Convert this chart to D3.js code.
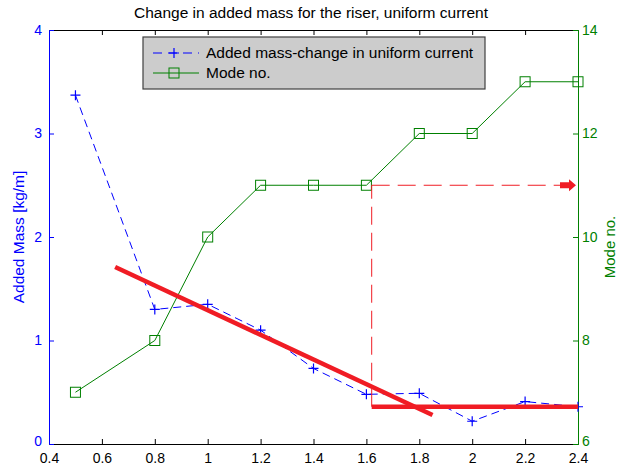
<!DOCTYPE html>
<html>
<head>
<meta charset="utf-8">
<script src="https://cdn.jsdelivr.net/npm/d3@7"></script>
<style>
  html, body { margin: 0; padding: 0; background: #fff; }
  svg { display: block; font-family: "Liberation Sans", Arial, sans-serif; }
</style>
</head>
<body>
<svg id="chart" width="617" height="471"></svg>
<script>
// Flow speed (x) and the two measured series
const speeds = [0.5, 0.8, 1.0, 1.2, 1.4, 1.6, 1.8, 2.0, 2.2, 2.4];
const addedMass = [3.37, 1.30, 1.35, 1.10, 0.73, 0.48, 0.49, 0.22, 0.41, 0.36];
const modeNo = [7, 8, 10, 11, 11, 11, 12, 12, 13, 13];

// Tick values
const xTicks = [0.4, 0.6, 0.8, 1.0, 1.2, 1.4, 1.6, 1.8, 2.0, 2.2, 2.4];
const leftTicks = [0, 1, 2, 3, 4];
const rightTicks = [6, 8, 10, 12, 14];

// Hand-drawn trend annotations (left-axis units)
const trendX = [0.65, 1.85];
const trendY = [1.71, 0.28];
const plateauX = [1.62, 2.4];
const plateauY = [0.36, 0.36];
const guideX = 1.62;
const guideMode = 11;

const title = "Change in added mass for the riser, uniform current";
const seriesNames = ["Added mass-change in uniform current", "Mode no."];

const BLUE = "#0000ff", GREEN = "#008000", RED = "#f01c24";
const FONT = "Liberation Sans, Arial, sans-serif";
const FS = 14;

const svg = d3.select("#chart");
const L = 49, R = 578, T = 30, B = 444;

const x = d3.scaleLinear().domain([0.4, 2.4]).range([L, R]);
const yL = d3.scaleLinear().domain([0, 4]).range([B, T]);
const yR = d3.scaleLinear().domain([6, 14]).range([B, T]);

// Title
svg.append("text").attr("x", 311).attr("y", 18).attr("text-anchor", "middle")
  .attr("font-size", 15.5).attr("fill", "#000").text(title);

// Axes
const tick = 5;
const gBottom = svg.append("g").attr("transform", `translate(0,${B})`)
  .call(d3.axisBottom(x).tickValues(xTicks).tickSize(-tick).tickPadding(9).tickFormat(d3.format("~g")));
const gTop = svg.append("g").attr("transform", `translate(0,${T})`)
  .call(d3.axisTop(x).tickValues(xTicks).tickSize(-tick).tickFormat(""));
const gLeft = svg.append("g").attr("transform", `translate(${L},0)`)
  .call(d3.axisLeft(yL).tickValues(leftTicks).tickSize(-tick).tickPadding(7).tickFormat(d3.format("d")));
const gRight = svg.append("g").attr("transform", `translate(${R},0)`)
  .call(d3.axisRight(yR).tickValues(rightTicks).tickSize(-tick).tickPadding(4).tickFormat(d3.format("d")));

[gBottom, gTop].forEach(g => {
  g.selectAll("path.domain").attr("stroke", "#000").attr("stroke-width", 1);
  g.selectAll(".tick line").attr("stroke", "#000");
  g.selectAll("text").attr("font-size", FS).attr("fill", "#000").attr("font-family", FONT);
});
gLeft.selectAll("path.domain").attr("stroke", BLUE);
gLeft.selectAll(".tick line").attr("stroke", BLUE);
gLeft.selectAll("text").attr("font-size", FS).attr("fill", BLUE).attr("font-family", FONT);
gRight.selectAll("path.domain").attr("stroke", GREEN);
gRight.selectAll(".tick line").attr("stroke", GREEN);
gRight.selectAll("text").attr("font-size", FS).attr("fill", GREEN).attr("font-family", FONT);
// drop the end tick marks that would sit on the frame
gBottom.selectAll(".tick line").filter(d => d === 0.4 || d === 2.4).remove();
gTop.selectAll(".tick line").filter(d => d === 0.4 || d === 2.4).remove();
gLeft.selectAll(".tick line").filter(d => d === 0 || d === 4).remove();
gRight.selectAll(".tick line").filter(d => d === 6 || d === 14).remove();
// the lowest y labels sit just above the x labels
gLeft.selectAll(".tick text").filter(d => d === 0).attr("dy", "0.1em");
gRight.selectAll(".tick text").filter(d => d === 6).attr("dy", "0.1em");

// Axis titles
svg.append("text").attr("transform", `translate(24,${(T + B) / 2}) rotate(-90)`)
  .attr("text-anchor", "middle").attr("font-size", 15.5).attr("fill", BLUE).text("Added Mass [kg/m]");
svg.append("text").attr("transform", `translate(615,${(T + B) / 2 + 10}) rotate(-90)`)
  .attr("text-anchor", "middle").attr("font-size", 15).attr("fill", GREEN).text("Mode no.");

// Mode number series
const modeLine = d3.line().x((d, i) => x(speeds[i])).y(d => yR(d));
svg.append("path").datum(modeNo).attr("d", modeLine)
  .attr("fill", "none").attr("stroke", GREEN).attr("stroke-width", 1);
svg.append("g").selectAll("rect").data(modeNo).join("rect")
  .attr("x", (d, i) => x(speeds[i]) - 5).attr("y", d => yR(d) - 5)
  .attr("width", 10).attr("height", 10)
  .attr("fill", "none").attr("stroke", GREEN).attr("stroke-width", 1);

// Added mass series
const massLine = d3.line().x((d, i) => x(speeds[i])).y(d => yL(d));
svg.append("path").datum(addedMass).attr("d", massLine)
  .attr("fill", "none").attr("stroke", BLUE).attr("stroke-width", 1)
  .attr("stroke-dasharray", "8,5");
const plus = svg.append("g");
addedMass.forEach((d, i) => {
  const cx = x(speeds[i]), cy = yL(d), h = 5;
  plus.append("path").attr("d", `M${cx - h},${cy}H${cx + h}M${cx},${cy - h}V${cy + h}`)
    .attr("stroke", BLUE).attr("stroke-width", 1.2).attr("fill", "none");
});

// Trend annotations
const ann = svg.append("g");
ann.append("line").attr("x1", x(trendX[0])).attr("y1", yL(trendY[0]))
  .attr("x2", x(trendX[1])).attr("y2", yL(trendY[1]))
  .attr("stroke", RED).attr("stroke-width", 4.5);
ann.append("line").attr("x1", x(plateauX[0])).attr("y1", yL(plateauY[0]))
  .attr("x2", x(plateauX[1])).attr("y2", yL(plateauY[1]))
  .attr("stroke", RED).attr("stroke-width", 4.5);
// dashed guide from the plateau up to the mode level and across to the mode axis
const gy = yR(guideMode);
ann.append("line").attr("x1", x(guideX)).attr("y1", yL(plateauY[0]))
  .attr("x2", x(guideX)).attr("y2", gy)
  .attr("stroke", RED).attr("stroke-width", 1).attr("stroke-dasharray", "18,8");
ann.append("line").attr("x1", x(guideX)).attr("y1", gy)
  .attr("x2", R - 18).attr("y2", gy)
  .attr("stroke", RED).attr("stroke-width", 1).attr("stroke-dasharray", "18,8");
// arrow head
const ax = R - 2;
ann.append("path")
  .attr("d", `M${ax - 16},${gy - 3}H${ax - 7}V${gy - 6}L${ax},${gy}L${ax - 7},${gy + 6}V${gy + 3}H${ax - 16}Z`)
  .attr("fill", RED);

// Legend
const lg = svg.append("g");
const lx = 143, ly = 37, lw = 342, lh = 52;
lg.append("rect").attr("x", lx).attr("y", ly).attr("width", lw).attr("height", lh)
  .attr("fill", "#cccccc").attr("stroke", "#404040").attr("stroke-width", 1.2);
const row1 = ly + 16, row2 = ly + 36;
lg.append("line").attr("x1", lx + 10).attr("x2", lx + 56).attr("y1", row1).attr("y2", row1)
  .attr("stroke", BLUE).attr("stroke-dasharray", "9,6");
lg.append("path").attr("d", `M${lx + 26},${row1}H${lx + 36}M${lx + 31},${row1 - 5}V${row1 + 5}`)
  .attr("stroke", BLUE).attr("stroke-width", 1.2);
lg.append("line").attr("x1", lx + 10).attr("x2", lx + 56).attr("y1", row2).attr("y2", row2)
  .attr("stroke", GREEN);
lg.append("rect").attr("x", lx + 26).attr("y", row2 - 5).attr("width", 10).attr("height", 10)
  .attr("fill", "none").attr("stroke", GREEN);
lg.append("text").attr("x", lx + 63).attr("y", row1 + 5).attr("font-size", 15.5).attr("fill", "#000").text(seriesNames[0]);
lg.append("text").attr("x", lx + 63).attr("y", row2 + 5).attr("font-size", 15.5).attr("fill", "#000").text(seriesNames[1]);
</script>
</body>
</html>
